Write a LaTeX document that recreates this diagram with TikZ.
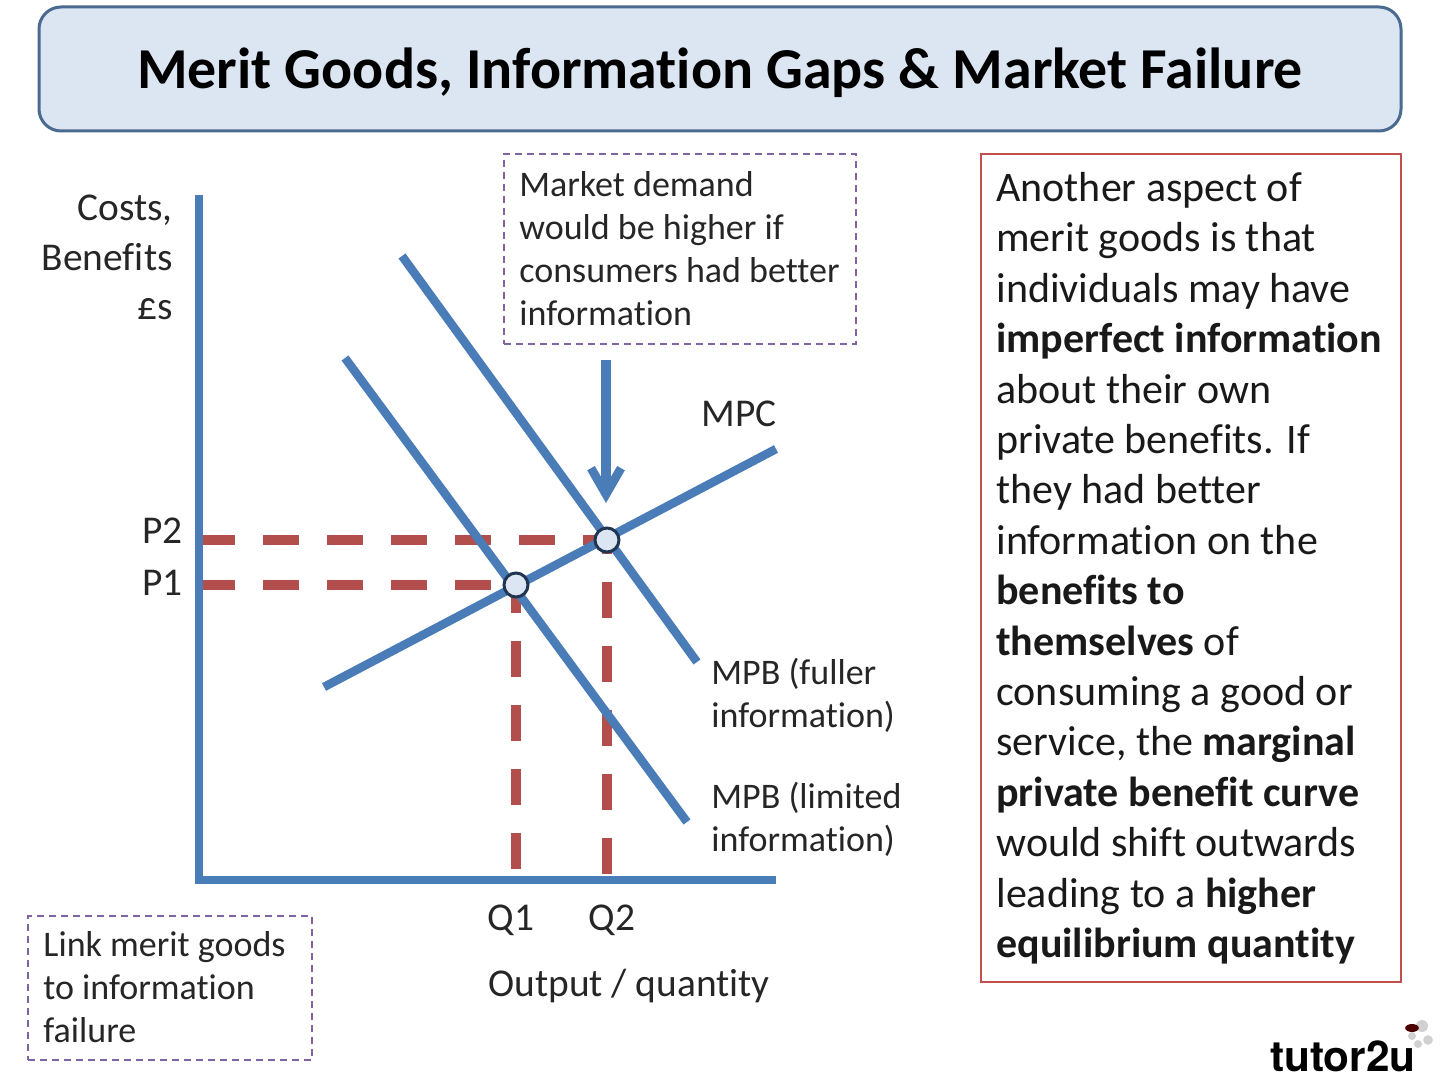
\documentclass[tikz,border=0pt]{standalone}
\usepackage{fontspec}
\setmainfont{Carlito}[Ligatures=NoCommon]
\newfontfamily\logofont{TeX Gyre Heros}
\usetikzlibrary{arrows.meta}
\definecolor{curveblue}{HTML}{4A7CB8}
\definecolor{dashred}{HTML}{B24F4D}
\definecolor{titlefill}{HTML}{DCE6F2}
\definecolor{titleedge}{HTML}{4A6A8F}
\definecolor{notepurple}{HTML}{8064A2}
\definecolor{boxred}{HTML}{C0504D}
\definecolor{ringdark}{HTML}{1F3552}
\tikzset{
  curve/.style={draw=curveblue, line width=4.3pt},
  guide/.style={draw=dashred, line width=5pt, dash pattern=on 18pt off 14pt},
  note/.style={draw=notepurple, line width=1.4pt, dash pattern=on 3.4pt off 2.6pt},
  label/.style={font=\fontsize{18}{21.5}\selectfont, inner sep=0pt, text=black!85},
  axislabel/.style={font=\fontsize{19.7}{24.6}\selectfont, inner sep=0pt, text=black!85},
  ring/.style={circle, draw=ringdark, fill=titlefill, line width=1.5pt, minimum size=12pt, inner sep=0pt}
}
\begin{document}
\begin{tikzpicture}[x=0.5pt, y=-0.5pt]
\useasboundingbox (0,0) rectangle (1440,1080);

\node[draw=titleedge, fill=titlefill, line width=1.5pt, rounded corners=11pt, minimum width=681pt, minimum height=62pt, inner sep=0pt] (title) at (720,69) {};
\node[inner sep=0pt, font=\fontsize{28.95}{32}\selectfont\bfseries] (titletxt) at (720,73) {Merit Goods, Information Gaps \& Market Failure};

\node[note, minimum width=176pt, minimum height=95pt, inner sep=0pt] (demandbox) at (680,249) {};
\node[label, anchor=north west, align=left] (demandtxt) at (519,171) {Market demand\\would be higher if\\consumers had better\\information};

\node[note, minimum width=142pt, minimum height=72pt, inner sep=0pt] (linkbox) at (170,988) {};
\node[label, anchor=north west, align=left] (linktxt) at (43,931) {Link merit goods\\to information\\failure};

\node[draw=boxred, line width=1.4pt, minimum width=210pt, minimum height=414pt, inner sep=0pt] (textbox) at (1191,568) {};
\node[anchor=north west, align=left, inner sep=0pt, text=black!90, font=\fontsize{21}{25.2}\selectfont] (texttxt) at (996,172) {Another aspect of\\merit goods is that\\individuals may have\\\textbf{imperfect information}\\about their own\\private benefits. If\\they had better\\information on the\\\textbf{benefits to}\\\textbf{themselves} of\\consuming a good or\\service, the \textbf{marginal}\\\textbf{private benefit curve}\\would shift outwards\\leading to a \textbf{higher}\\\textbf{equilibrium quantity}};

% axes and curve ends
\coordinate (top) at (199,195);
\coordinate (origin) at (199,880);
\coordinate (right) at (776,880);
\coordinate (full1) at (402,256);
\coordinate (full2) at (697,662);
\coordinate (lim1) at (345,358);
\coordinate (lim2) at (687,822);
\coordinate (mpc1) at (324,687);
\coordinate (mpc2) at (776,449);
\coordinate (arrowtop) at (606,360);
\coordinate (arrowend) at (606,503);
\coordinate (p2axis) at (199,540);
\coordinate (p1axis) at (199,585);
\coordinate (q1axis) at (516,872);
\coordinate (q2axis) at (607,880);
\coordinate (eq1) at (516,585);
\coordinate (eq2) at (607,540);

\path[guide]
(p2axis) edge (eq2)
(p1axis) edge (eq1)
(eq1) edge[dash phase=4pt] (q1axis)
(eq2) edge[dash phase=11pt] (q2axis)
;

\draw[curve, line join=miter] (top) -- (origin) -- (right);
\path[curve]
(full1) edge (full2)
(lim1) edge (lim2)
(mpc1) edge (mpc2)
(arrowtop) edge[line width=4.8pt, -{Straight Barb[length=13pt, width=15pt, line width=4.4pt]}] (arrowend)
;

\node[ring] (ring1) at (eq1) {};
\node[ring] (ring2) at (eq2) {};

\node[axislabel, anchor=north east, align=right] (ylabel) at (173,195) {Costs,\\Benefits\\\pounds s};
\node[axislabel, anchor=east] (p2) at (183,531) {P2};
\node[axislabel, anchor=east] (p1) at (183,583) {P1};
\node[axislabel] (q1) at (511,920) {Q1};
\node[axislabel] (q2) at (612,920) {Q2};
\node[axislabel, anchor=west] (output) at (488,986) {Output / quantity};
\node[axislabel] (mpc) at (739,414) {MPC};
\node[label, anchor=north west, align=left] (mpbfull) at (711,658) {MPB (fuller\\information)};
\node[label, anchor=north west, align=left] (mpblim) at (711,782) {MPB (limited\\information)};

\node[inner sep=0pt, anchor=south east, font=\fontsize{21.2}{26}\selectfont\logofont\bfseries] (logo) at (1416,1072) {tutor2u};
\fill[black!18] (1422,1026) circle (3pt) (1412,1036) circle (2pt) (1428,1040) circle (2.4pt) (1418,1044) circle (2pt);
\fill[black!70!red] (1412,1028) ellipse (3.4pt and 2pt);
\end{tikzpicture}
\end{document}
